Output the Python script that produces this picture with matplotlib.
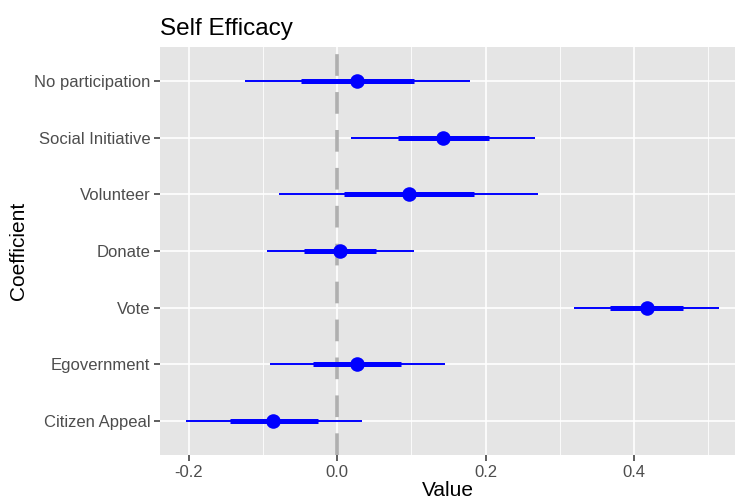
import numpy as np
import matplotlib.pyplot as plt

plt.rcParams['font.family'] = ['Liberation Sans', 'DejaVu Sans']

# coefficients, top to bottom as in the plot
coefs = ["No participation", "Social Initiative", "Volunteer", "Donate",
         "Vote", "Egovernment", "Citizen Appeal"]
value = [0.027, 0.143, 0.097, 0.004, 0.417, 0.027, -0.086]
inner_lo = [-0.048, 0.082, 0.010, -0.045, 0.368, -0.032, -0.144]
inner_hi = [0.103, 0.204, 0.184, 0.053, 0.466, 0.086, -0.026]
outer_lo = [-0.124, 0.019, -0.078, -0.095, 0.319, -0.091, -0.204]
outer_hi = [0.179, 0.267, 0.271, 0.103, 0.515, 0.146, 0.033]

xticks = [-0.2, 0.0, 0.2, 0.4]
xtick_labels = ["-0.2", "0.0", "0.2", "0.4"]

fig = plt.figure(figsize=(7.35, 5.04), dpi=100)
ax = fig.add_axes([160 / 735, 1 - 455 / 504, 575 / 735, 408 / 504])
ax.set_facecolor("#E5E5E5")

ypos = np.arange(len(coefs))[::-1] + 1

ax.set_xlim(-0.2385, 0.536)
ax.set_ylim(0.4, len(coefs) + 0.6)

# grid
ax.set_xticks(xticks)
ax.set_xticklabels(xtick_labels)
ax.set_xticks([-0.1, 0.1, 0.3, 0.5], minor=True)
ax.set_yticks(ypos)
ax.set_yticklabels(coefs)
ax.grid(which="major", color="white", linewidth=1.2)
ax.grid(which="minor", axis="x", color="white", linewidth=0.6)
ax.set_axisbelow(True)
for s in ax.spines.values():
    s.set_visible(False)
ax.tick_params(which="major", length=4, width=1.1, color="#333333",
               labelcolor="#4D4D4D", labelsize=12, pad=3)
ax.tick_params(which="minor", length=0)

ax.axvline(0, color="#AFAFAF", linewidth=2.6, linestyle=(0, (6, 4.5)), zorder=1.5)

ax.hlines(ypos, outer_lo, outer_hi, color="#0000FF", linewidth=1.4, zorder=3)
ax.hlines(ypos, inner_lo, inner_hi, color="#0000FF", linewidth=3.6, zorder=3)
ax.scatter(value, ypos, s=110, color="#0000FF", zorder=4, linewidths=0)

ax.set_xlabel("Value", fontsize=15, labelpad=1)
ax.set_ylabel("Coefficient", fontsize=15, labelpad=4)
ax.set_title("Self Efficacy", fontsize=17.5, loc="left", pad=9)

fig.savefig("out.png", dpi=100)
